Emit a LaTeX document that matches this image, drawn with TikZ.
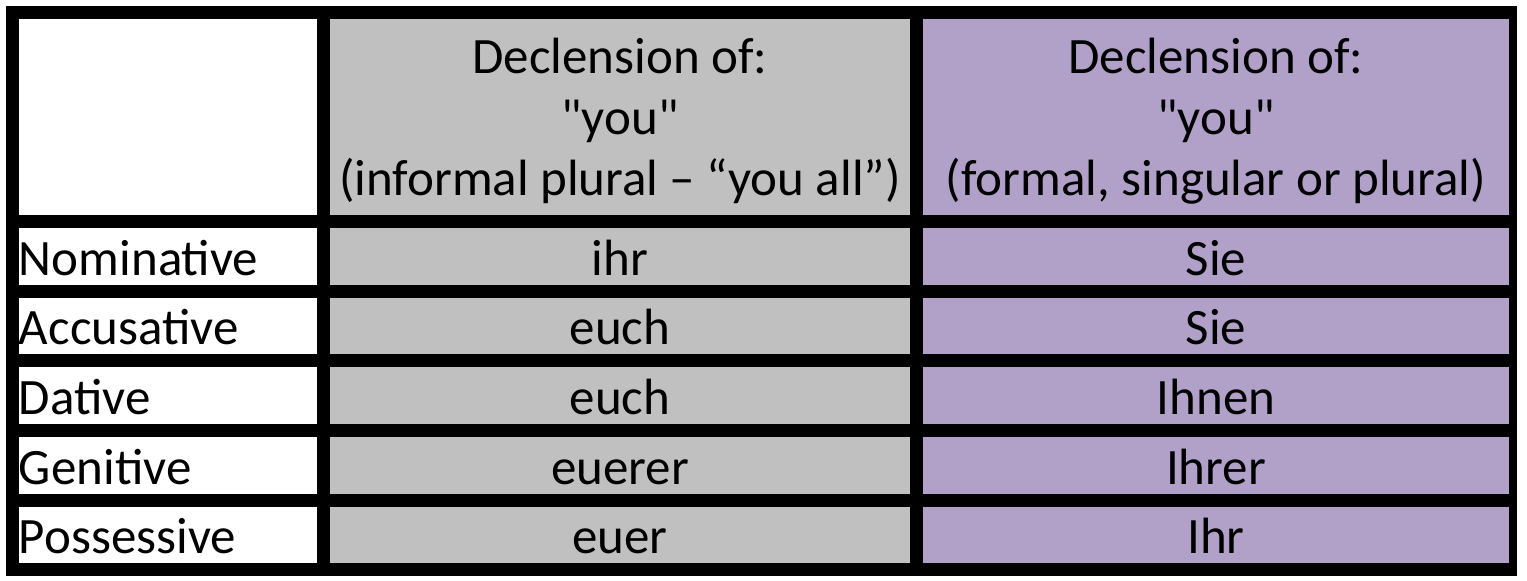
\documentclass[tikz,border=0pt]{standalone}
\usepackage{fontspec}
\newfontfamily\calfont{Carlito}
\definecolor{cellgray}{HTML}{C0C0C0}
\definecolor{cellpurple}{HTML}{B1A0C7}
\tikzset{
  cellbox/.style={rectangle, draw=none, inner sep=0pt, outer sep=0pt},
  txt/.style={inner sep=0pt, outer sep=0pt, font=\calfont\fontsize{51}{61}\selectfont, text=black},
  headtxt/.style={txt, align=center},
}
\begin{document}
\begin{tikzpicture}[x=1pt, y=-1pt]
\useasboundingbox (0,0) rectangle (1527,581);
\node[cellbox, fill=black, minimum width=1511pt, minimum height=570pt] (frame) at (761.5,291) {};
% header row
\node[cellbox, fill=white, minimum width=298pt, minimum height=196pt] (h1) at (168,117) {};
\node[cellbox, fill=cellgray, minimum width=580pt, minimum height=196pt] (h2) at (620,117) {};
\node[cellbox, fill=cellpurple, minimum width=586pt, minimum height=196pt] (h3) at (1216,117) {};
% row cells
\foreach \r/\yc/\hh in {1/256.5/57, 2/326/56, 3/395.5/57, 4/465.5/57, 5/535/56} {
  \node[cellbox, fill=white, minimum width=298pt, minimum height=\hh pt] (a\r) at (168,\yc) {};
  \node[cellbox, fill=cellgray, minimum width=580pt, minimum height=\hh pt] (b\r) at (620,\yc) {};
  \node[cellbox, fill=cellpurple, minimum width=586pt, minimum height=\hh pt] (c\r) at (1216,\yc) {};
}
% header texts
\node[headtxt, anchor=base] (ht2) at (620,195) {Declension of:\\"you"\\(informal plural – “you all”)};
\node[headtxt, anchor=base] (ht3) at (1216,195) {Declension of:\\"you"\\(formal, singular or plural)};
% row labels and values
\node[txt, anchor=base west] (l1) at (19,275) {Nominative};
\node[txt, anchor=base west] (l2) at (19,344) {Accusative};
\node[txt, anchor=base west] (l3) at (19,414) {Dative};
\node[txt, anchor=base west] (l4) at (19,484) {Genitive};
\node[txt, anchor=base west] (l5) at (19,553) {Possessive};
\node[txt, anchor=base] (v1) at (620,275) {ihr};
\node[txt, anchor=base] (v2) at (620,344) {euch};
\node[txt, anchor=base] (v3) at (620,414) {euch};
\node[txt, anchor=base] (v4) at (620,484) {euerer};
\node[txt, anchor=base] (v5) at (620,553) {euer};
\node[txt, anchor=base] (w1) at (1216,275) {Sie};
\node[txt, anchor=base] (w2) at (1216,344) {Sie};
\node[txt, anchor=base] (w3) at (1216,414) {Ihnen};
\node[txt, anchor=base] (w4) at (1216,484) {Ihrer};
\node[txt, anchor=base] (w5) at (1216,553) {Ihr};
\end{tikzpicture}
\end{document}
